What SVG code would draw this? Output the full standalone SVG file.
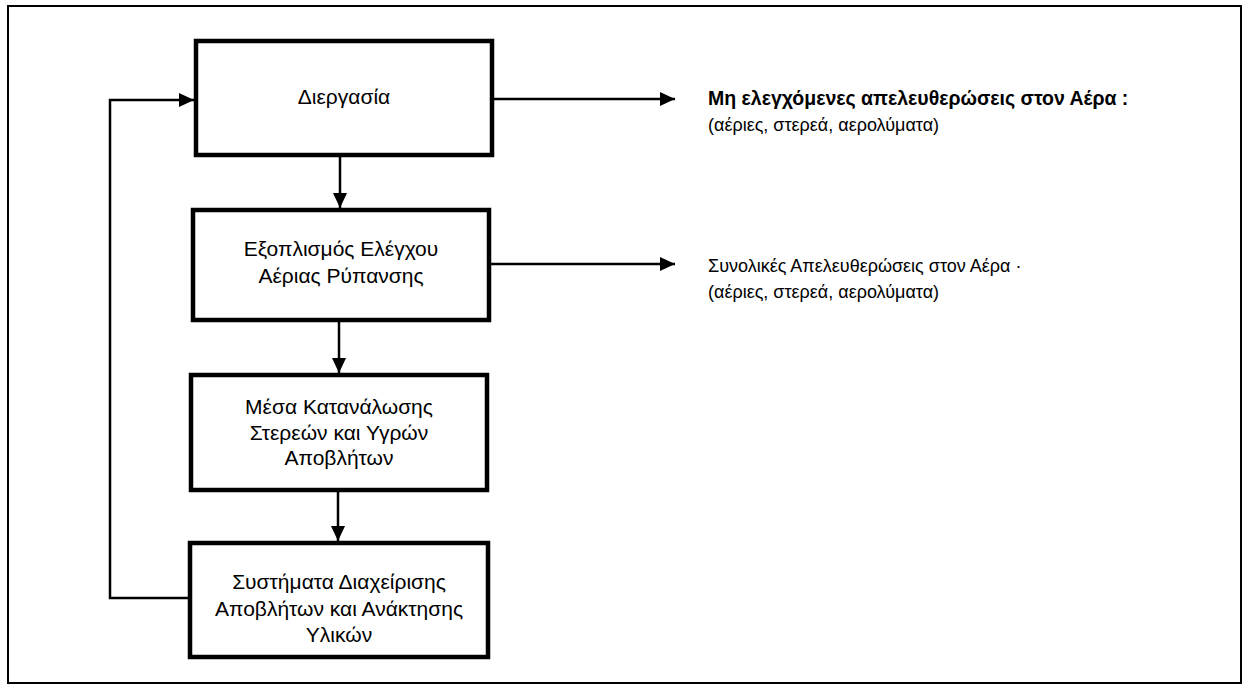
<svg xmlns="http://www.w3.org/2000/svg" width="1249" height="690" viewBox="0 0 1249 690">
  <style>
    .frame { fill: none; stroke: #000; stroke-width: 2; }
    .box { fill: #fff; stroke: #000; stroke-width: 4.5; }
    .link { fill: none; stroke: #000; stroke-width: 2.5; }
    .lbl { font-family: "Liberation Sans", Arial, sans-serif; font-size: 21px; fill: #000; text-anchor: middle; }
    .out { font-family: "Liberation Sans", Arial, sans-serif; font-size: 18px; fill: #000; }
    .strong { font-weight: bold; font-size: 19.5px; }
  </style>
  <defs>
    <marker id="head" markerUnits="userSpaceOnUse" markerWidth="15" markerHeight="14" refX="15" refY="7" orient="auto">
      <path d="M0,0 L15,7 L0,14 Z" fill="#000"/>
    </marker>
  </defs>

  <rect width="1249" height="690" fill="#fff"/>
  <rect class="frame" x="8" y="6" width="1233" height="677"/>

  <!-- flow connectors -->
  <g id="connectors">
    <line class="link" x1="340" y1="157" x2="340" y2="208" marker-end="url(#head)"/>
    <line class="link" x1="339" y1="322" x2="339" y2="373" marker-end="url(#head)"/>
    <line class="link" x1="338" y1="492" x2="338" y2="541" marker-end="url(#head)"/>
    <line class="link" x1="492" y1="99" x2="675" y2="99" marker-end="url(#head)"/>
    <line class="link" x1="489" y1="264" x2="675" y2="264" marker-end="url(#head)"/>
    <polyline class="link" points="190,598 110,598 110,100 194,100" marker-end="url(#head)"/>
  </g>

  <g id="process">
    <rect class="box" x="196" y="41" width="296" height="114"/>
    <text class="lbl" x="344" y="104">Διεργασία</text>
  </g>

  <g id="air-control">
    <rect class="box" x="193" y="210" width="296" height="110"/>
    <text class="lbl" x="341" y="256">Εξοπλισμός Ελέγχου</text>
    <text class="lbl" x="341" y="283">Αέριας Ρύπανσης</text>
  </g>

  <g id="waste-media">
    <rect class="box" x="191" y="375" width="296" height="115"/>
    <text class="lbl" x="339" y="414">Μέσα Κατανάλωσης</text>
    <text class="lbl" x="339" y="440">Στερεών και Υγρών</text>
    <text class="lbl" x="339" y="465">Αποβλήτων</text>
  </g>

  <g id="waste-recovery">
    <rect class="box" x="190" y="543" width="298" height="114"/>
    <text class="lbl" x="339" y="589">Συστήματα Διαχείρισης</text>
    <text class="lbl" x="339" y="616">Αποβλήτων και Ανάκτησης</text>
    <text class="lbl" x="339" y="642">Υλικών</text>
  </g>

  <g id="uncontrolled-release">
    <text class="out strong" x="708" y="105">Μη ελεγχόμενες απελευθερώσεις στον Αέρα :</text>
    <text class="out" x="708" y="131">(αέριες, στερεά, αερολύματα)</text>
  </g>

  <g id="total-release">
    <text class="out" x="708" y="272">Συνολικές Απελευθερώσεις στον Αέρα ·</text>
    <text class="out" x="708" y="298">(αέριες, στερεά, αερολύματα)</text>
  </g>
</svg>
